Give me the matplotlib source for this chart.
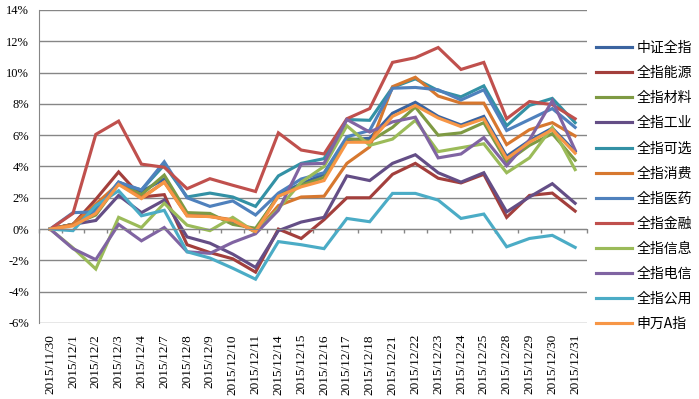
import matplotlib
matplotlib.use("Agg")
import matplotlib.pyplot as plt
import matplotlib.ticker as ticker
import numpy as np

plt.rcParams["axes.unicode_minus"] = False

# dates on the category axis
dates = ["2015/11/30", "2015/12/1", "2015/12/2", "2015/12/3", "2015/12/4",
         "2015/12/7", "2015/12/8", "2015/12/9", "2015/12/10", "2015/12/11",
         "2015/12/14", "2015/12/15", "2015/12/16", "2015/12/17", "2015/12/18",
         "2015/12/21", "2015/12/22", "2015/12/23", "2015/12/24", "2015/12/25",
         "2015/12/28", "2015/12/29", "2015/12/30", "2015/12/31"]

# cumulative returns in %
zz_all = [0, 0.3, 1.2, 3.0, 2.4, 3.2, 0.9, 0.85, 0.5, -0.1, 2.2, 2.9,
          3.5, 5.7, 5.8, 7.4, 8.1, 7.2, 6.65, 7.2, 4.65, 5.65, 6.45, 4.95]
energy = [0, 0.3, 1.9, 3.65, 2.05, 2.2, -1.0, -1.5, -1.9, -2.75, 0.0, -0.6,
          0.6, 2.0, 2.0, 3.5, 4.2, 3.25, 2.95, 3.5, 0.75, 2.15, 2.3, 1.15]
materials = [0, 0.3, 0.9, 2.9, 2.2, 3.45, 1.05, 1.0, 0.3, 0.05, 2.1, 2.8,
             3.3, 5.8, 5.6, 6.5, 7.8, 6.0, 6.15, 6.8, 4.3, 5.35, 6.1, 4.4]
industrials = [0, 0.3, 0.55, 2.15, 1.05, 1.85, -0.5, -0.9, -1.6, -2.45, -0.1, 0.45,
               0.75, 3.4, 3.1, 4.2, 4.75, 3.6, 3.0, 3.6, 1.1, 2.05, 2.9, 1.65]
discretionary = [0, 0.3, 1.3, 2.9, 2.5, 4.1, 2.05, 2.3, 2.05, 1.45, 3.4, 4.2,
                 4.5, 7.0, 6.95, 9.05, 9.6, 8.85, 8.45, 9.15, 6.6, 7.9, 8.35, 6.8]
staples = [0, 0.3, 1.6, 2.9, 2.0, 3.0, 0.85, 0.8, 0.6, -0.2, 1.5, 2.05,
           2.1, 4.2, 5.25, 9.1, 9.7, 8.5, 8.05, 8.05, 5.4, 6.35, 6.8, 5.95]
health = [0, 1.05, 1.1, 3.0, 2.5, 4.3, 2.0, 1.45, 1.8, 0.9, 2.3, 3.2,
          3.6, 5.9, 6.3, 9.0, 9.05, 8.9, 8.25, 8.9, 6.3, 7.0, 7.7, 6.5]
financials = [0, 1.0, 6.05, 6.9, 4.15, 3.95, 2.58, 3.22, 2.8, 2.4, 6.15, 5.05,
              4.8, 7.05, 7.7, 10.65, 10.95, 11.6, 10.2, 10.65, 7.05, 8.15, 7.95, 7.05]
info_tech = [0, -1.2, -2.55, 0.75, 0.1, 1.65, 0.25, -0.1, 0.75, -0.2, 1.3, 3.0,
             4.0, 6.6, 5.35, 5.75, 6.95, 4.95, 5.2, 5.45, 3.6, 4.55, 6.5, 3.8]
telecom = [0, -1.25, -1.95, 0.3, -0.75, 0.1, -1.45, -1.55, -0.85, -0.3, 1.2, 4.15,
           4.2, 7.0, 6.2, 6.85, 7.15, 4.55, 4.8, 5.85, 4.05, 5.7, 8.2, 5.05]
utilities = [0, -0.1, 1.5, 2.45, 0.85, 1.2, -1.45, -1.85, -2.5, -3.2, -0.8, -1.0,
             -1.25, 0.68, 0.47, 2.28, 2.28, 1.85, 0.68, 0.96, -1.13, -0.6, -0.4, -1.17]
sw_a = [0, 0.2, 1.0, 2.85, 1.95, 3.0, 0.85, 0.8, 0.55, -0.15, 2.1, 2.7,
        3.1, 5.55, 5.55, 7.2, 7.9, 7.1, 6.55, 7.05, 4.5, 5.55, 6.35, 4.85]

names = ["中证全指", "全指能源", "全指材料", "全指工业", "全指可选", "全指消费",
         "全指医药", "全指金融", "全指信息", "全指电信", "全指公用", "申万A指"]
series = [zz_all, energy, materials, industrials, discretionary, staples,
          health, financials, info_tech, telecom, utilities, sw_a]
colors = ["#3B64A0", "#A33F3C", "#7E9A43", "#644E86", "#3391A5", "#D7782F",
          "#4F81BD", "#C0504D", "#9BBB59", "#8064A2", "#4BACC6", "#F79646"]

fig = plt.figure(figsize=(6.99, 3.99), dpi=100)
ax = fig.add_axes([0.0554, 0.1905, 0.7837, 0.7845])

x = np.arange(len(dates))
for vals, name, c in zip(series, names, colors):
    ax.plot(x, vals, color=c, linewidth=2.25, label=name, solid_joinstyle="miter")

grid_c = "#868686"
ax.set_xlim(-0.5, len(dates) - 0.5)
ax.set_ylim(-6, 14)
ax.yaxis.set_major_locator(ticker.MultipleLocator(2))
ax.yaxis.set_major_formatter(ticker.PercentFormatter(decimals=0))
ax.grid(True, axis="y", color=grid_c, linewidth=1.0)
ax.set_axisbelow(True)

for side in ["top", "right"]:
    ax.spines[side].set_visible(False)
ax.spines["left"].set_color(grid_c)
ax.spines["bottom"].set_position(("data", 0))
ax.spines["bottom"].set_color(grid_c)

# tick marks between categories on the zero line
ax.set_xticks(np.arange(len(dates) + 1) - 0.5)
ax.set_xticklabels([])
ax.tick_params(axis="x", direction="out", length=3, color=grid_c, width=1)
ax.tick_params(axis="y", length=0, pad=7)
for lab in ax.get_yticklabels():
    lab.set_family("Liberation Serif")
    lab.set_fontsize(9)

# date labels under the plot area
sec = ax.secondary_xaxis("bottom")
sec.set_xticks(x)
sec.set_xticklabels(dates, rotation=90, family="Liberation Serif", fontsize=9.5)
sec.tick_params(length=0, pad=8)
sec.spines["bottom"].set_visible(False)

leg = ax.legend(loc="upper left", bbox_to_anchor=(596 / 699, 1 - 41 / 399),
                bbox_transform=fig.transFigure, frameon=False,
                prop={"family": ["Noto Sans CJK SC", "DejaVu Sans"], "size": 10},
                handlelength=2.6, handletextpad=0.3, labelspacing=0.8,
                borderpad=0, borderaxespad=0)

fig.savefig("out.png", dpi=100)
